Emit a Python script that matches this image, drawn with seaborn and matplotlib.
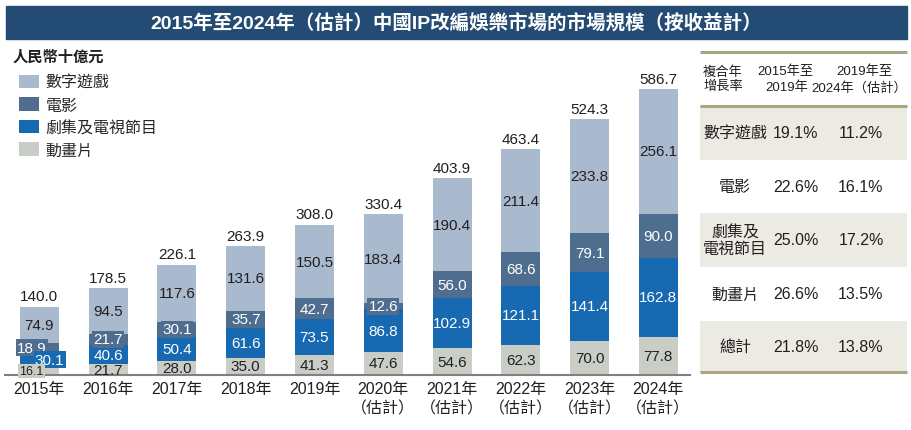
import matplotlib
matplotlib.use('Agg')
import matplotlib.pyplot as plt
from matplotlib.patches import Patch, Rectangle
import numpy as np
import pandas as pd
import seaborn as sns

# data (RMB bn)
years = ['2015年', '2016年', '2017年', '2018年', '2019年',
         '2020年\n（估計）', '2021年\n（估計）', '2022年\n（估計）',
         '2023年\n（估計）', '2024年\n（估計）']
animation = [16.1, 21.7, 28.0, 35.0, 41.3, 47.6, 54.6, 62.3, 70.0, 77.8]
drama_tv = [30.1, 40.6, 50.4, 61.6, 73.5, 86.8, 102.9, 121.1, 141.4, 162.8]
film = [18.9, 21.7, 30.1, 35.7, 42.7, 12.6, 56.0, 68.6, 79.1, 90.0]
games = [74.9, 94.5, 117.6, 131.6, 150.5, 183.4, 190.4, 211.4, 233.8, 256.1]
totals = [140.0, 178.5, 226.1, 263.9, 308.0, 330.4, 403.9, 463.4, 524.3, 586.7]

series_names = ['數字遊戲', '電影', '劇集及電視節目', '動畫片']
colors = {'數字遊戲': '#a9b9ce', '電影': '#4f6d8e', '劇集及電視節目': '#1769b1', '動畫片': '#c8cec6'}
text_colors = {'數字遊戲': '#231f20', '電影': 'white', '劇集及電視節目': 'white', '動畫片': '#231f20'}

# CAGR table
table_rows = ['數字遊戲', '電影', '劇集及\n電視節目', '動畫片', '總計']
cagr_15_19 = ['19.1%', '22.6%', '25.0%', '26.6%', '21.8%']
cagr_19_24 = ['11.2%', '16.1%', '17.2%', '13.5%', '13.8%']

title = '2015年至2024年（估計）中國IP改編娛樂市場的市場規模（按收益計）'
unit = '人民幣十億元'

sns.set_theme(style='white')
plt.rcParams['font.family'] = ['Liberation Sans', 'Noto Sans CJK TC', 'DejaVu Sans']

df = pd.DataFrame({'year': years, '動畫片': animation, '劇集及電視節目': drama_tv,
                   '電影': film, '數字遊戲': games})
df['c1'] = df['動畫片']
df['c2'] = df['c1'] + df['劇集及電視節目']
df['c3'] = df['c2'] + df['電影']
df['c4'] = df['c3'] + df['數字遊戲']

W, H = 912, 431
fig = plt.figure(figsize=(W / 100, H / 100), dpi=100)

# overlay axes in pixel coordinates for the title bar and table
ov = fig.add_axes([0, 0, 1, 1], zorder=0)
ov.set_xlim(0, W)
ov.set_ylim(H, 0)
ov.axis('off')

ov.add_patch(Rectangle((6, 7), 901, 33, color='#234b74'))
ov.text(456, 24, title, color='white', fontsize=14, fontweight='bold', ha='center', va='center')
ov.text(13, 58, unit, color='#231f20', fontsize=11, fontweight='bold', ha='left', va='center')

# table
line_c = '#a8a580'
shade_c = '#ecebe3'
row_edges = [107, 161, 214, 268, 322, 373]
for i in range(len(table_rows)):
    if i % 2 == 0:
        ov.add_patch(Rectangle((700, row_edges[i]), 207, row_edges[i + 1] - row_edges[i],
                               color=shade_c, lw=0))
for yy in [53, 107, 373]:
    ov.plot([700, 907], [yy, yy], color=line_c, lw=2.2, solid_capstyle='butt')

hdr_fs = 9.5
ov.text(703, 80, '複合年\n增長率', fontsize=hdr_fs, ha='left', va='center', color='#231f20', linespacing=1.2)
ov.text(785, 72, '2015年至', fontsize=hdr_fs, ha='center', va='center', color='#231f20')
ov.text(808, 88, '2019年', fontsize=hdr_fs, ha='right', va='center', color='#231f20')
ov.text(864, 72, '2019年至', fontsize=hdr_fs, ha='center', va='center', color='#231f20')
ov.text(907, 88, '2024年（估計）', fontsize=hdr_fs, ha='right', va='center', color='#231f20')
for i, name in enumerate(table_rows):
    yc = (row_edges[i] + row_edges[i + 1]) / 2
    ov.text(735, yc, name, fontsize=11.5, ha='center', va='center', color='#231f20', linespacing=1.1)
    ov.text(796, yc, cagr_15_19[i], fontsize=11.5, ha='center', va='center', color='#231f20')
    ov.text(861, yc, cagr_19_24[i], fontsize=11.5, ha='center', va='center', color='#231f20')

# chart axes
ax = fig.add_axes([5 / W, 55 / H, 685 / W, 316 / H], zorder=1)
ax.patch.set_alpha(0)
layers = [('c4', '數字遊戲'), ('c3', '電影'), ('c2', '劇集及電視節目'), ('c1', '動畫片')]
for col, name in layers:
    sns.barplot(data=df, x='year', y=col, color=colors[name], width=0.567,
                saturation=1, errorbar=None, ax=ax, linewidth=0)

ax.set_xlim(-0.5, 9.46)
ax.set_ylim(0, 648.2)
ax.set_xlabel('')
ax.set_ylabel('')
ax.set_yticks([])
sns.despine(ax=ax, left=True)
ax.spines['bottom'].set_color('#808080')
ax.spines['bottom'].set_linewidth(1.5)
ax.tick_params(axis='x', length=0, pad=4, labelsize=11.5, colors='#231f20')
for lab in ax.get_xticklabels():
    lab.set_linespacing(1.35)

# segment labels
offsets = {(0, '電影'): -0.11, (0, '劇集及電視節目'): 0.15, (0, '動畫片'): -0.12}
bottoms = {'動畫片': np.zeros(len(years)), '劇集及電視節目': df['c1'].values,
           '電影': df['c2'].values, '數字遊戲': df['c3'].values}
for name in series_names:
    vals = df[name].values
    for i, v in enumerate(vals):
        yc = bottoms[name][i] + v / 2
        fs = 9 if (i == 0 and name == '動畫片') else 11
        boxed = name == '電影' or i == 0
        ax.text(i + offsets.get((i, name), 0), yc, f'{v:.1f}', ha='center', va='center',
                fontsize=fs, color=text_colors[name],
                bbox=dict(facecolor=colors[name], edgecolor='none', pad=1.0) if boxed else None)
for i, t in enumerate(totals):
    ax.text(i, t + 7, f'{t:.1f}', ha='center', va='bottom', fontsize=11, color='#231f20')

handles = [Patch(facecolor=colors[n], edgecolor='none') for n in series_names]
fig.legend(handles, series_names, loc='upper left', bbox_to_anchor=(19 / W, 1 - 76 / H),
           frameon=False, fontsize=11.5, handlelength=1.25, handleheight=0.9,
           handletextpad=0.4, labelspacing=0.46, borderpad=0, borderaxespad=0)

fig.savefig('out.png', dpi=100)
